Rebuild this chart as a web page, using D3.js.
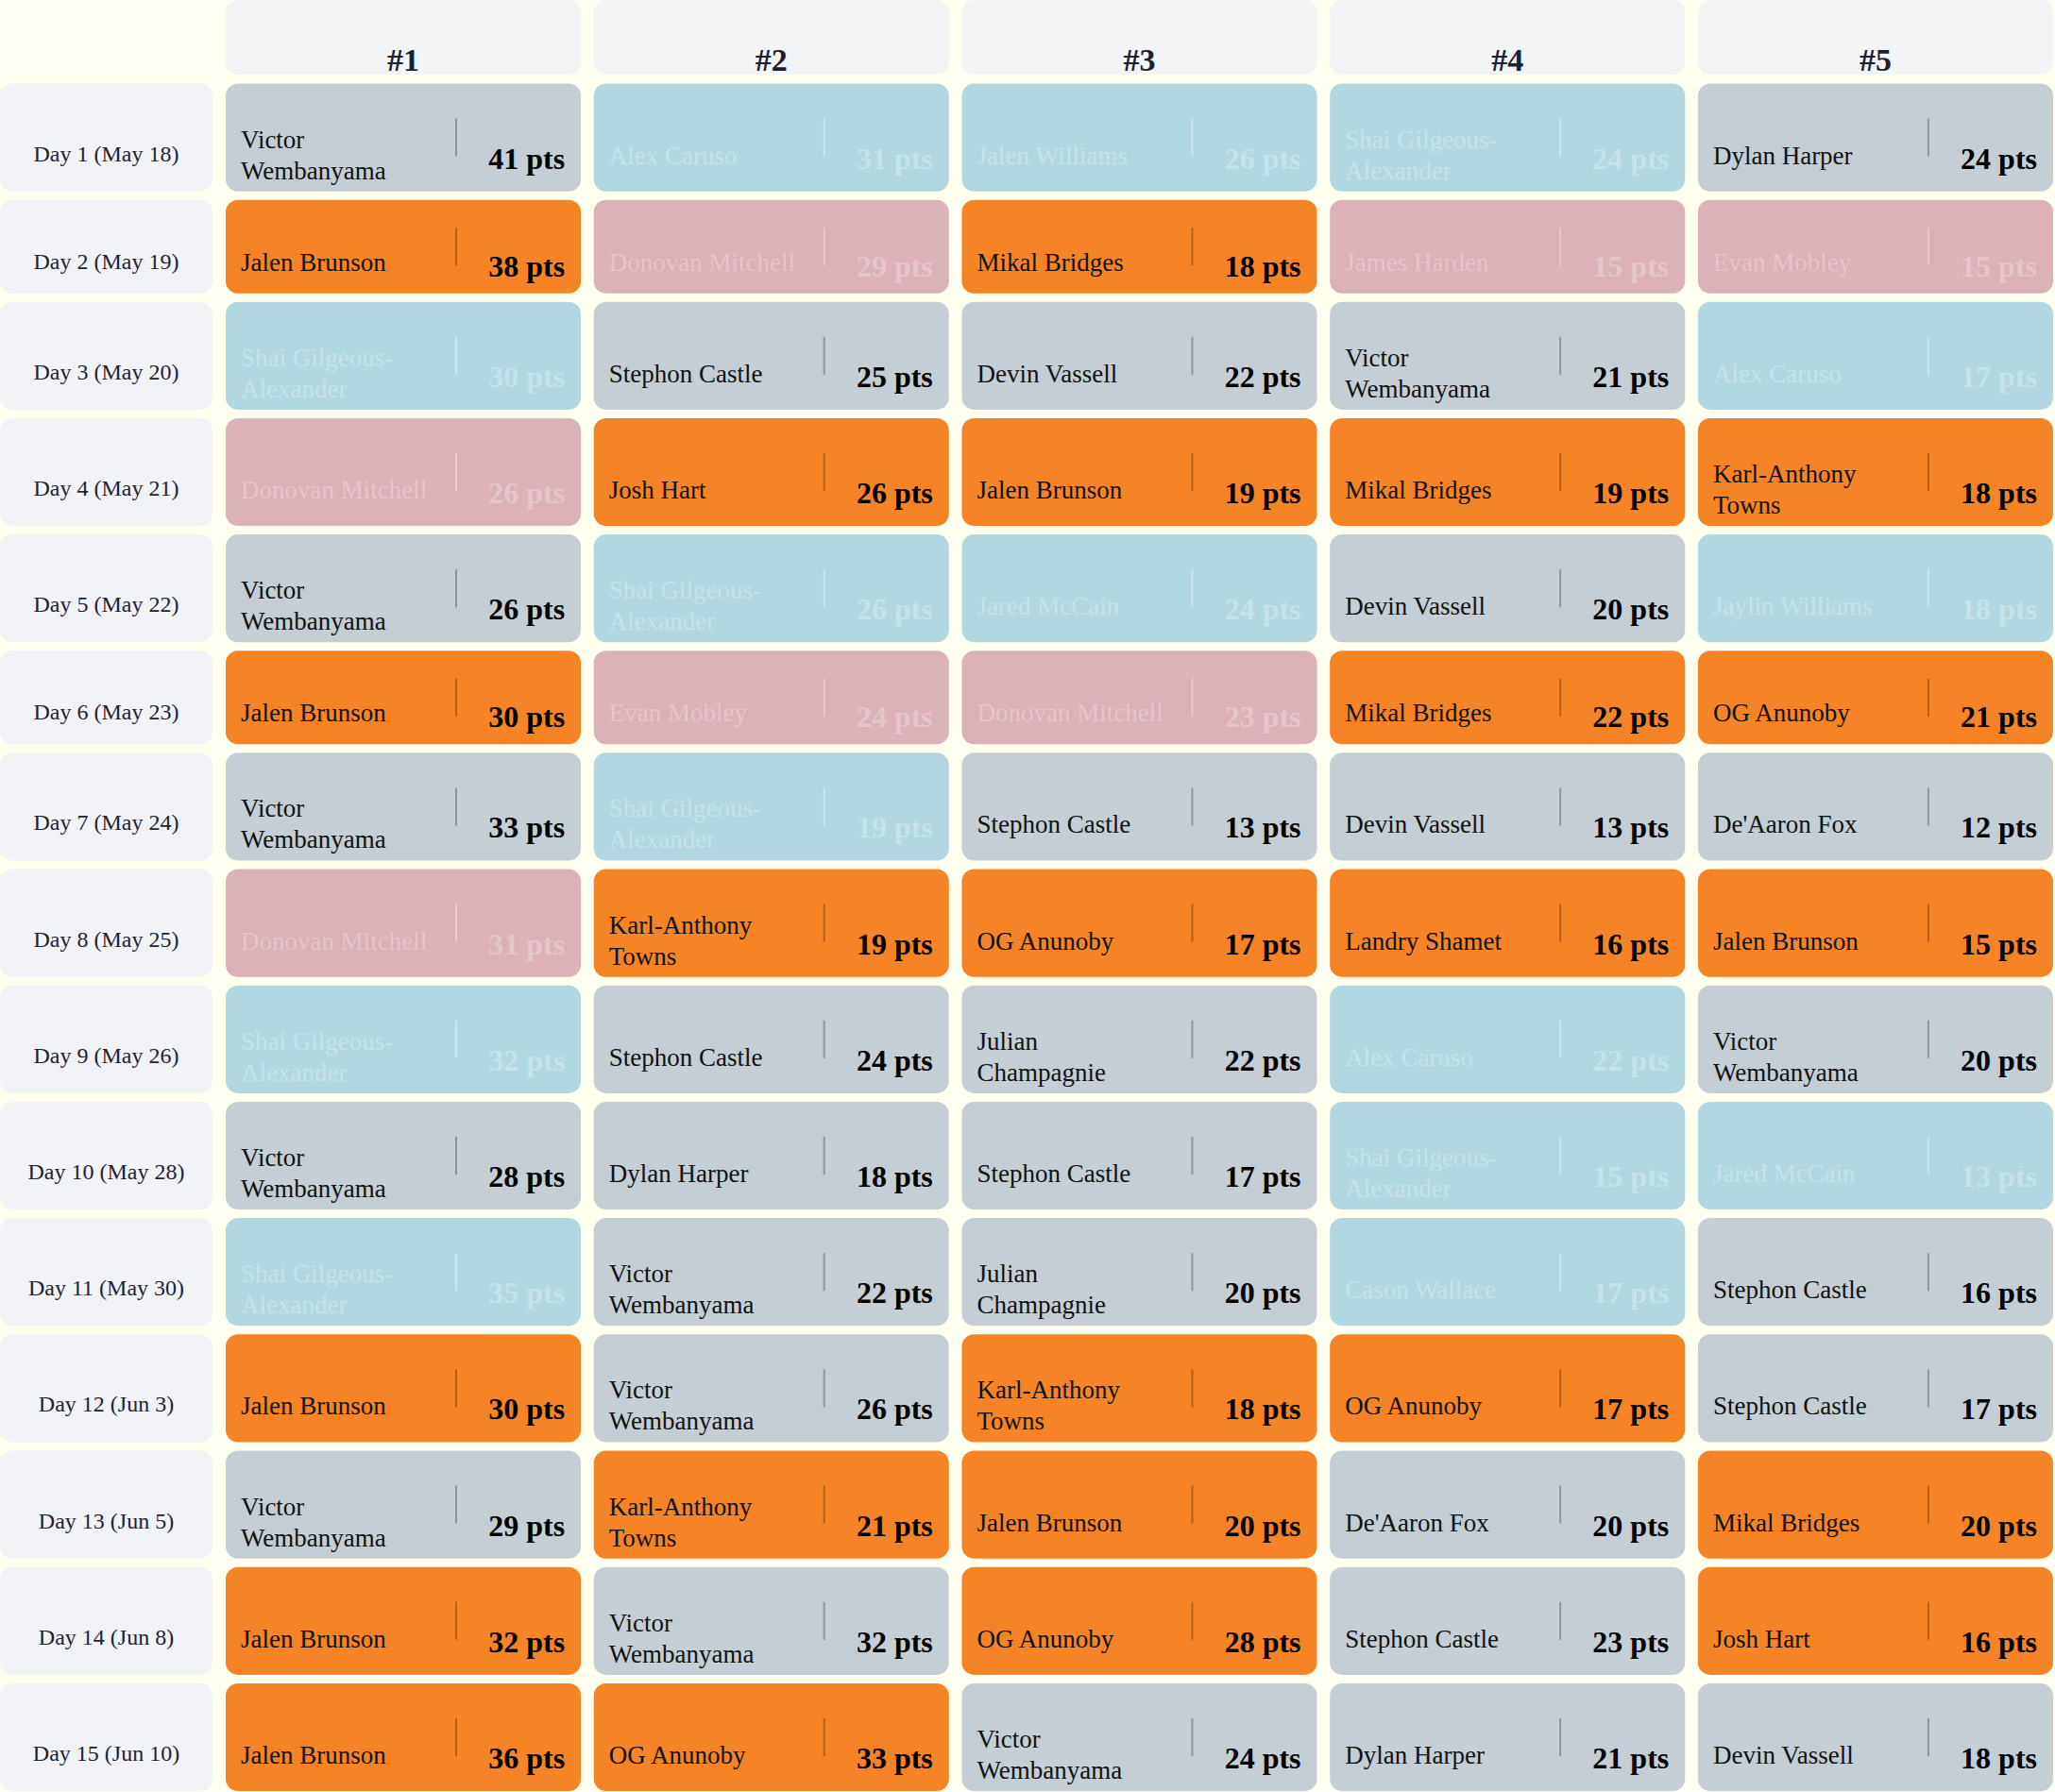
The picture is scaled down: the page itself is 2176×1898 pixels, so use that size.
<!DOCTYPE html>
<html lang="en">
<head>
    <meta charset="UTF-8">
    <title>Top 5 Scorers per Day</title>
    <style>
        body {
            background-color: #fffff0;
            margin: 0;
            overflow: hidden;
        }
        svg {
            display: block;
            font-family: "Liberation Serif", "DejaVu Serif", serif;
        }
        .day-label {
            font-size: 24px;
            fill: #1e2332;
        }
        .rank-label {
            font-size: 34px;
            font-weight: bold;
            fill: #1c2130;
        }
        .name {
            font-size: 27px;
        }
        .pts {
            font-size: 32px;
            font-weight: bold;
        }
    </style>
</head>
<body>
    <svg id="chart"></svg>

    <script src="https://d3js.org/d3.v7.min.js"></script>
    <script>
        // Data
        const days = ["Day 1 (May 18)", "Day 2 (May 19)", "Day 3 (May 20)", "Day 4 (May 21)", "Day 5 (May 22)",
                      "Day 6 (May 23)", "Day 7 (May 24)", "Day 8 (May 25)", "Day 9 (May 26)", "Day 10 (May 28)",
                      "Day 11 (May 30)", "Day 12 (Jun 3)", "Day 13 (Jun 5)", "Day 14 (Jun 8)", "Day 15 (Jun 10)"];

        const ranks = ["#1", "#2", "#3", "#4", "#5"];

        const players = [
            ["Victor Wembanyama", "Alex Caruso", "Jalen Williams", "Shai Gilgeous-Alexander", "Dylan Harper"],
            ["Jalen Brunson", "Donovan Mitchell", "Mikal Bridges", "James Harden", "Evan Mobley"],
            ["Shai Gilgeous-Alexander", "Stephon Castle", "Devin Vassell", "Victor Wembanyama", "Alex Caruso"],
            ["Donovan Mitchell", "Josh Hart", "Jalen Brunson", "Mikal Bridges", "Karl-Anthony Towns"],
            ["Victor Wembanyama", "Shai Gilgeous-Alexander", "Jared McCain", "Devin Vassell", "Jaylin Williams"],
            ["Jalen Brunson", "Evan Mobley", "Donovan Mitchell", "Mikal Bridges", "OG Anunoby"],
            ["Victor Wembanyama", "Shai Gilgeous-Alexander", "Stephon Castle", "Devin Vassell", "De'Aaron Fox"],
            ["Donovan Mitchell", "Karl-Anthony Towns", "OG Anunoby", "Landry Shamet", "Jalen Brunson"],
            ["Shai Gilgeous-Alexander", "Stephon Castle", "Julian Champagnie", "Alex Caruso", "Victor Wembanyama"],
            ["Victor Wembanyama", "Dylan Harper", "Stephon Castle", "Shai Gilgeous-Alexander", "Jared McCain"],
            ["Shai Gilgeous-Alexander", "Victor Wembanyama", "Julian Champagnie", "Cason Wallace", "Stephon Castle"],
            ["Jalen Brunson", "Victor Wembanyama", "Karl-Anthony Towns", "OG Anunoby", "Stephon Castle"],
            ["Victor Wembanyama", "Karl-Anthony Towns", "Jalen Brunson", "De'Aaron Fox", "Mikal Bridges"],
            ["Jalen Brunson", "Victor Wembanyama", "OG Anunoby", "Stephon Castle", "Josh Hart"],
            ["Jalen Brunson", "OG Anunoby", "Victor Wembanyama", "Dylan Harper", "Devin Vassell"]
        ];

        const points = [
            [41, 31, 26, 24, 24],
            [38, 29, 18, 15, 15],
            [30, 25, 22, 21, 17],
            [26, 26, 19, 19, 18],
            [26, 26, 24, 20, 18],
            [30, 24, 23, 22, 21],
            [33, 19, 13, 13, 12],
            [31, 19, 17, 16, 15],
            [32, 24, 22, 22, 20],
            [28, 18, 17, 15, 13],
            [35, 22, 20, 17, 16],
            [30, 26, 18, 17, 17],
            [29, 21, 20, 20, 20],
            [32, 32, 28, 23, 16],
            [36, 33, 24, 21, 18]
        ];

        const spurs = ["Victor Wembanyama", "Dylan Harper", "Stephon Castle", "Devin Vassell", "Julian Champagnie", "De'Aaron Fox"];
        const knicks = ["Jalen Brunson", "Mikal Bridges", "Josh Hart", "Karl-Anthony Towns", "OG Anunoby", "Landry Shamet"];
        const thunder = ["Alex Caruso", "Jalen Williams", "Shai Gilgeous-Alexander", "Jared McCain", "Jaylin Williams", "Cason Wallace"];
        const cavaliers = ["Donovan Mitchell", "James Harden", "Evan Mobley"];

        const teamFill = {
            SAS: "#c4ced4",
            NYK: "#f58426",
            OKC: "rgba(0,122,193,0.3)",
            CLE: "rgba(134,0,56,0.3)"
        };

        function teamOf(name) {
            if (spurs.includes(name)) return "SAS";
            if (knicks.includes(name)) return "NYK";
            if (thunder.includes(name)) return "OKC";
            return "CLE";
        }

        const W = 2176, H = 1898;
        const svg = d3.select("#chart").attr("width", W).attr("height", H);

        // wrap a name into lines no wider than maxW (break at spaces or after hyphens)
        const measure = svg.append("text").attr("class", "name").attr("x", -1000).attr("y", -1000);
        function textWidth(s) {
            measure.text(s);
            return measure.node().getComputedTextLength();
        }
        function wrapName(name, maxW) {
            const tokens = name.match(/[^\s-]+-?|\s+/g);
            const lines = [];
            let line = "";
            tokens.forEach(t => {
                const trial = line + t;
                if (line.trim() && textWidth(trial.trim()) > maxW) {
                    lines.push(line.trim());
                    line = t.trim();
                } else {
                    line = trial;
                }
            });
            lines.push(line.trim());
            return lines;
        }

        const maxNameW = 202;
        const cells = players.map((row, i) => row.map((name, j) => ({
            day: i, rank: ranks[j], name: name, pts: points[i][j],
            team: teamOf(name), lines: wrapName(name, maxNameW)
        })));
        measure.remove();

        // row heights depend on whether any name wraps
        const rowH = cells.map(row => d3.max(row, c => c.lines.length) > 1 ? 114.2 : 99);
        const headerH = 79, gap = 9, firstTop = 88.5;
        const rowTop = rowH.map((h, i) => firstTop + d3.sum(rowH.slice(0, i)) + i * gap);

        const x = d3.scaleBand()
            .domain(ranks)
            .range([239, 2174])
            .paddingInner(0.035);

        const labelW = 225, radius = 13;

        // header cells
        const header = svg.append("g");
        header.selectAll("rect")
            .data(ranks)
            .join("rect")
            .attr("x", d => x(d))
            .attr("y", 0)
            .attr("width", x.bandwidth())
            .attr("height", headerH)
            .attr("rx", radius)
            .attr("fill", "#f3f4f6");
        header.selectAll("text")
            .data(ranks)
            .join("text")
            .attr("class", "rank-label")
            .attr("x", d => x(d) + x.bandwidth() / 2)
            .attr("y", 75)
            .attr("text-anchor", "middle")
            .text(d => d);

        // day label cells
        const labels = svg.append("g")
            .selectAll("g")
            .data(days)
            .join("g")
            .attr("transform", (d, i) => `translate(0,${rowTop[i]})`);
        labels.append("rect")
            .attr("width", labelW)
            .attr("height", (d, i) => rowH[i])
            .attr("rx", radius)
            .attr("fill", "#f2f3f6");
        labels.append("text")
            .attr("class", "day-label")
            .attr("x", labelW / 2)
            .attr("y", (d, i) => rowH[i] > 100 ? 82 : 73)
            .attr("text-anchor", "middle")
            .text(d => d);

        // player cells
        const cellG = svg.append("g")
            .selectAll("g")
            .data(cells.flat())
            .join("g")
            .attr("transform", d => `translate(${x(d.rank)},${rowTop[d.day]})`);

        const faded = d => d.team === "OKC" || d.team === "CLE";
        const ink = d => faded(d) ? "rgba(255,255,255,0.3)" : "#111";

        cellG.append("rect")
            .attr("width", x.bandwidth())
            .attr("height", d => rowH[d.day])
            .attr("rx", radius)
            .attr("fill", d => teamFill[d.team]);

        cellG.append("line")
            .attr("x1", 244).attr("x2", 244)
            .attr("y1", d => rowH[d.day] / 2 - 20)
            .attr("y2", d => rowH[d.day] / 2 + 20)
            .attr("stroke", d => faded(d) ? "rgba(255,255,255,0.35)" : "rgba(0,0,0,0.28)")
            .attr("stroke-width", 2);

        cellG.append("text")
            .attr("class", "name")
            .attr("fill", ink)
            .each(function(d) {
                const tall = rowH[d.day] > 100;
                const ys = d.lines.length > 1 ? [68, 101] : [tall ? 85 : 75];
                d3.select(this).selectAll("tspan")
                    .data(d.lines)
                    .join("tspan")
                    .attr("x", 16)
                    .attr("y", (l, k) => ys[k])
                    .text(l => l);
            });

        cellG.append("text")
            .attr("class", "pts")
            .attr("fill", d => faded(d) ? "rgba(255,255,255,0.3)" : "#000")
            .attr("x", x.bandwidth() - 17)
            .attr("y", d => rowH[d.day] > 100 ? 90 : 81)
            .attr("text-anchor", "end")
            .text(d => `${d.pts} pts`);
    </script>
</body>
</html>
